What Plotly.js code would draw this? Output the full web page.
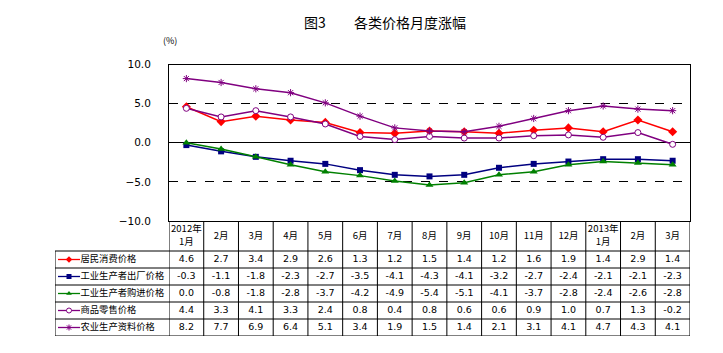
<!DOCTYPE html>
<html>
<head>
<meta charset="utf-8">
<script src="https://cdn.plot.ly/plotly-3.0.1.min.js"></script>
<style>html,body{margin:0;padding:0;background:#fff;}#chart{width:723px;height:353px;}</style>
</head>
<body>
<div id="chart"></div>
<script>
// ---- data ----
const months = ["2012年1月","2012年2月","2012年3月","2012年4月","2012年5月","2012年6月","2012年7月","2012年8月","2012年9月","2012年10月","2012年11月","2012年12月","2013年1月","2013年2月","2013年3月"];
const headerLabels = ["2012年<br>1月","2月","3月","4月","5月","6月","7月","8月","9月","10月","11月","12月","2013年<br>1月","2月","3月"];
const seriesNames = ["居民消费价格","工业生产者出厂价格","工业生产者购进价格","商品零售价格","农业生产资料价格"];
const cpi    = [4.6, 2.7, 3.4, 2.9, 2.6, 1.3, 1.2, 1.5, 1.4, 1.2, 1.6, 1.9, 1.4, 2.9, 1.4];
const ppiOut = [-0.3, -1.1, -1.8, -2.3, -2.7, -3.5, -4.1, -4.3, -4.1, -3.2, -2.7, -2.4, -2.1, -2.1, -2.3];
const ppiIn  = [0.0, -0.8, -1.8, -2.8, -3.7, -4.2, -4.9, -5.4, -5.1, -4.1, -3.7, -2.8, -2.4, -2.6, -2.8];
const retail = [4.4, 3.3, 4.1, 3.3, 2.4, 0.8, 0.4, 0.8, 0.6, 0.6, 0.9, 1.0, 0.7, 1.3, -0.2];
const agri   = [8.2, 7.7, 6.9, 6.4, 5.1, 3.4, 1.9, 1.5, 1.4, 2.1, 3.1, 4.1, 4.7, 4.3, 4.1];
const yTicks = [-10, -5, 0, 5, 10];

// ---- styles ----
const allSeries = [cpi, ppiOut, ppiIn, retail, agri];
const colors = ["#FF0000", "#000080", "#008000", "#800080", "#800080"];
const markers = [
  {symbol: "diamond", size: 7, color: "#FF0000"},
  {symbol: "square", size: 6, color: "#000080"},
  {symbol: "triangle-up", size: 7, color: "#008000"},
  {symbol: "circle", size: 6, color: "#FFFFFF", line: {color: "#800080", width: 1}},
  {symbol: "asterisk-open", size: 6, color: "#800080", line: {color: "#800080", width: 1}}
];
const legMarkers = [
  {symbol: "diamond", size: 5, color: "#FF0000"},
  {symbol: "square", size: 5, color: "#000080"},
  {symbol: "triangle-up", size: 5, color: "#008000"},
  {symbol: "circle", size: 5, color: "#FFFFFF", line: {color: "#800080", width: 1}},
  {symbol: "asterisk-open", size: 5, color: "#800080", line: {color: "#800080", width: 1}}
];
const CJK = "'Noto Sans CJK SC', 'DejaVu Sans', sans-serif";

// table geometry (y2 in pixel-like units, 0 at top of table)
const headerH = 30, rowH = 17;
const rowCenter = i => headerH + rowH * i + rowH / 2;

const traces = [];
allSeries.forEach((s, i) => {
  traces.push({
    x: months, y: s, type: "scatter", mode: "lines+markers",
    name: seriesNames[i], line: {color: colors[i], width: 1.5},
    marker: markers[i], xaxis: "x", yaxis: "y", hoverinfo: "skip", cliponaxis: false
  });
});

// header text (split two-line labels into separate lines)
const hx = [], hy = [], ht = [];
headerLabels.forEach((lab, i) => {
  const parts = lab.split("<br>");
  if (parts.length === 2) {
    hx.push(i, i); hy.push(headerH / 2 - 6.5, headerH / 2 + 6.5); ht.push(parts[0], parts[1]);
  } else {
    hx.push(i); hy.push(headerH / 2 + 1); ht.push(lab);
  }
});
traces.push({
  x: hx, y: hy, text: ht, mode: "text", type: "scatter",
  textfont: {family: CJK, size: 9.5, color: "#000"},
  xaxis: "x2", yaxis: "y2", hoverinfo: "skip"
});
// value cells
allSeries.forEach((s, r) => {
  traces.push({
    x: s.map((v, i) => i), y: s.map(() => rowCenter(r)),
    text: s.map(v => v.toFixed(1)), mode: "text", type: "scatter",
    textfont: {family: "'DejaVu Sans', sans-serif", size: 9.5, color: "#000"},
    xaxis: "x2", yaxis: "y2", hoverinfo: "skip"
  });
  // legend symbol
  traces.push({
    x: [3, 14, 25], y: [rowCenter(r), rowCenter(r), rowCenter(r)],
    mode: "lines", type: "scatter", line: {color: colors[r], width: 1.3},
    xaxis: "x3", yaxis: "y2", hoverinfo: "skip"
  });
  traces.push({
    x: [14], y: [rowCenter(r)], mode: "markers", type: "scatter",
    marker: legMarkers[r], xaxis: "x3", yaxis: "y2", hoverinfo: "skip"
  });
  traces.push({
    x: [25.5], y: [rowCenter(r)], text: [seriesNames[r]], mode: "text", type: "scatter",
    textposition: "middle right",
    textfont: {family: CJK, size: 9.3, color: "#000"},
    xaxis: "x3", yaxis: "y2", hoverinfo: "skip", cliponaxis: false
  });
});

// table grid shapes
const shapes = [];
const L = {color: "#000", width: 1};
for (let k = 0; k <= months.length; k++) {
  shapes.push({type: "line", xref: "x2", yref: "y2", x0: k - 0.5, x1: k - 0.5, y0: 0, y1: headerH + rowH * 5, line: L});
}
for (let r = 0; r <= 5; r++) {
  shapes.push({type: "line", xref: "x3", yref: "y2", x0: 0, x1: 114, y0: headerH + rowH * r, y1: headerH + rowH * r, line: L});
  shapes.push({type: "line", xref: "x2", yref: "y2", x0: -0.5, x1: months.length - 0.5, y0: headerH + rowH * r, y1: headerH + rowH * r, line: L});
}
shapes.push({type: "line", xref: "x3", yref: "y2", x0: 0, x1: 0, y0: headerH, y1: headerH + rowH * 5, line: L});

const W = 723, H = 353;
const layout = {
  width: W, height: H,
  margin: {l: 0, r: 0, t: 0, b: 0, pad: 0},
  paper_bgcolor: "#fff", plot_bgcolor: "#fff",
  showlegend: false,
  title: {text: "图3　　各类价格月度涨幅", x: 385 / W, xanchor: "center", y: 1 - 23 / H, yanchor: "middle",
          font: {family: CJK, size: 14, color: "#000"}},
  xaxis: {
    domain: [169 / W, 690 / W], type: "category", range: [-0.5, 14.5],
    showticklabels: false, ticks: "", showgrid: false, zeroline: false,
    showline: true, mirror: true, linecolor: "#000", linewidth: 1, fixedrange: true
  },
  yaxis: {
    domain: [1 - 221 / H, 1 - 64.5 / H], range: [-10, 10], tickvals: yTicks,
    tickformat: ".1f", ticks: "", ticklabelstandoff: 15,
    tickfont: {family: "'DejaVu Sans', sans-serif", size: 10.5, color: "#000"},
    showgrid: true, gridcolor: "#000", gridwidth: 1, griddash: "dash",
    zeroline: true, zerolinecolor: "#000", zerolinewidth: 1,
    showline: true, mirror: true, linecolor: "#000", linewidth: 1, fixedrange: true
  },
  xaxis2: {
    domain: [169 / W, 690 / W], range: [-0.5, 14.5], anchor: "y2",
    visible: false, fixedrange: true
  },
  yaxis2: {
    domain: [1 - 336 / H, 1 - 221 / H], range: [headerH + rowH * 5, 0], anchor: "x2",
    visible: false, fixedrange: true
  },
  xaxis3: {
    domain: [55 / W, 169 / W], range: [0, 114], anchor: "y2",
    visible: false, fixedrange: true
  },
  shapes: shapes,
  annotations: [
    {text: "(%)", xref: "paper", yref: "paper", x: 170 / W, y: 1 - 40 / H, xanchor: "center", yanchor: "middle",
     showarrow: false, font: {family: CJK, size: 9, color: "#000"}}
  ]
};

Plotly.newPlot("chart", traces, layout, {displayModeBar: false, staticPlot: true});
</script>
</body>
</html>
